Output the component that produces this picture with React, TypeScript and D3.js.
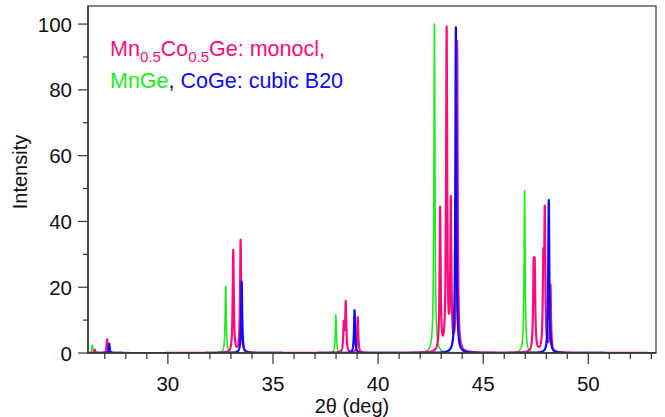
import React from "react";
import * as d3 from "d3";

// Peak positions (2θ, deg) and intensities
const mnGePos = [26.4, 32.75, 37.99, 42.68, 46.97];
const mnGeInt = [2.4, 20.4, 11.5, 100, 49.5];

const mnCoGePos = [26.52, 27.11, 33.11, 33.46, 38.37, 38.46, 39.03, 42.95, 43.26, 43.46, 43.76, 47.4, 47.45, 47.86, 47.93, 48.2];
const mnCoGeInt = [1.0, 4.2, 31.2, 34.2, 8.2, 15.0, 10.9, 43.5, 97.5, 44.5, 94, 22.5, 22.5, 25, 40.5, 20];

const coGePos = [27.21, 33.51, 38.88, 43.7, 48.12];
const coGeInt = [2.8, 21.8, 13.0, 99, 46.5];

const xTicks = [30, 35, 40, 45, 50];
const yTicks = [0, 20, 40, 60, 80, 100];

const W = 665;
const H = 417;
const X0 = 26.2;
const X1 = 53.22;
const HW = 0.03;

function profile(pos: number[], amp: number[]): [number, number][] {
  const pts: [number, number][] = [];
  for (let x = X0; x <= X1; x += 0.004) {
    let s = 0;
    for (let i = 0; i < pos.length; i++) {
      const t = (x - pos[i]) / HW;
      s += amp[i] / (1 + t * t);
    }
    pts.push([x, s]);
  }
  return pts;
}

export default function App() {
  const x = d3.scaleLinear().domain([X0, X1]).range([88, 656]);
  const y = d3.scaleLinear().domain([0, 105.5]).range([353, 6]);
  const line = d3
    .line<[number, number]>()
    .x((d) => x(d[0]))
    .y((d) => y(d[1]));

  const series = [
    { pos: mnGePos, amp: mnGeInt, color: "#1aee1a", w: 1.6 },
    { pos: mnCoGePos, amp: mnCoGeInt, color: "#ff0a7a", w: 2.2 },
    { pos: coGePos, amp: coGeInt, color: "#0a0aff", w: 2.2 },
  ];

  const minorX = d3.range(27, 54, 1).filter((v) => v % 5 !== 0);
  const minorY = d3.range(10, 101, 20);
  const font = "Liberation Sans, Arial, sans-serif";
  const axisColor = "#333";

  return (
    <svg
      width={W}
      height={H}
      style={{ position: "absolute", left: 0, top: 0, background: "#fff" }}
      fontFamily={font}
    >
      <defs>
        <clipPath id="plot">
          <rect x={88} y={6} width={568} height={347} />
        </clipPath>
      </defs>
      <g clipPath="url(#plot)">
        {series.map((s, i) => (
          <path
            key={i}
            d={line(profile(s.pos, s.amp)) || ""}
            fill="none"
            stroke={s.color}
            strokeWidth={s.w}
            strokeLinejoin="round"
          />
        ))}
      </g>
      {/* frame */}
      <rect x={88} y={6} width={568} height={347} fill="none" stroke="#666" strokeWidth={1.6} />
      <line x1={88} x2={656} y1={353} y2={353} stroke={axisColor} strokeWidth={1.4} />
      <line x1={88} x2={88} y1={6} y2={353} stroke={axisColor} strokeWidth={1.4} />
      {/* x ticks */}
      {xTicks.map((t) => (
        <g key={"xt" + t}>
          <line x1={x(t)} x2={x(t)} y1={353} y2={364} stroke={axisColor} strokeWidth={1.2} />
          <text x={x(t)} y={391} fontSize={20.5} textAnchor="middle" fill="#111">
            {t}
          </text>
        </g>
      ))}
      {minorX.map((t) => (
        <line key={"xm" + t} x1={x(t)} x2={x(t)} y1={353} y2={359} stroke={axisColor} strokeWidth={1.2} />
      ))}
      {/* y ticks */}
      {yTicks.map((t) => (
        <g key={"yt" + t}>
          <line x1={78} x2={88} y1={y(t)} y2={y(t)} stroke={axisColor} strokeWidth={1.2} />
          <text x={72} y={y(t) + 7.5} fontSize={20.5} textAnchor="end" fill="#111">
            {t}
          </text>
        </g>
      ))}
      {minorY.map((t) => (
        <line key={"ym" + t} x1={83} x2={88} y1={y(t)} y2={y(t)} stroke={axisColor} strokeWidth={1.2} />
      ))}
      {/* axis titles */}
      <text
        transform={`translate(27,172) rotate(-90)`}
        fontSize={20}
        textAnchor="middle"
        fill="#111"
      >
        Intensity
      </text>
      <text x={352} y={413} fontSize={20} textAnchor="middle" fill="#111">
        2θ (deg)
      </text>
      {/* legend */}
      <text x={110} y={56} fontSize={21.5}>
        <tspan fill="#ff0a7a">Mn</tspan>
        <tspan fill="#ff0a7a" fontSize={15} dy={6}>0.5</tspan>
        <tspan fill="#ff0a7a" dy={-6}>Co</tspan>
        <tspan fill="#ff0a7a" fontSize={15} dy={6}>0.5</tspan>
        <tspan fill="#ff0a7a" dy={-6}>Ge: monocl,</tspan>
      </text>
      <text x={110} y={88} fontSize={21.5}>
        <tspan fill="#1aee1a">MnGe</tspan>
        <tspan fill="#111">, </tspan>
        <tspan fill="#0a0aff">CoGe: cubic B20</tspan>
      </text>
    </svg>
  );
}
